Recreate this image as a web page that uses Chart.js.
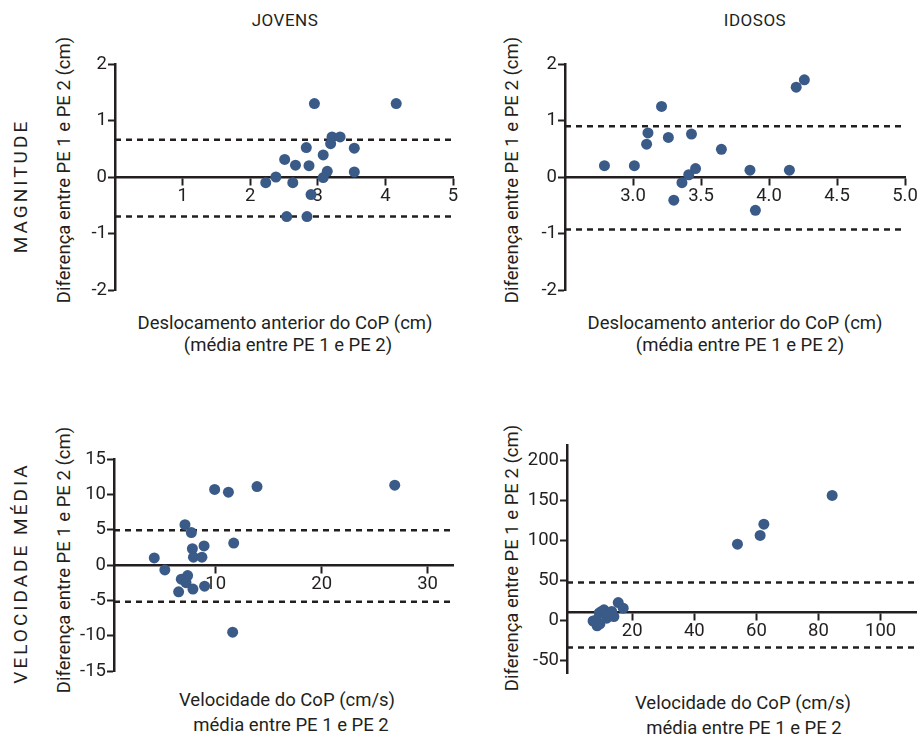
<!DOCTYPE html>
<html>
<head>
<meta charset="utf-8">
<script src="https://cdn.jsdelivr.net/npm/chart.js@4.4.0/dist/chart.umd.min.js"></script>
<style>
  body { margin: 0; width: 919px; height: 739px; overflow: hidden; background: #fff;
         font-family: Roboto, sans-serif; color: #231f20; position: relative; }
  canvas { position: absolute; }
  .t { position: absolute; white-space: nowrap; transform: translate(-50%, -50%); font-size: 18.5px; line-height: 22px; }
  .r { transform: translate(-50%, -50%) rotate(-90deg); }
  .row { font-size: 19px; letter-spacing: 3px; }
</style>
</head>
<body>
<div class="t" style="left:285px;top:20px;font-size:17px;letter-spacing:0.5px">JOVENS</div>
<div class="t" style="left:755px;top:20px;font-size:17px;letter-spacing:0.5px">IDOSOS</div>
<div class="t r row" style="left:21px;top:186px">MAGNITUDE</div>
<div class="t r row" style="left:21px;top:573px">VELOCIDADE MÉDIA</div>

<div class="t r" style="left:64px;top:170px">Diferença entre PE 1 e PE 2 (cm)</div>
<div class="t r" style="left:512px;top:170px">Diferença entre PE 1 e PE 2 (cm)</div>
<div class="t r" style="left:64px;top:560px">Diferença entre PE 1 e PE 2 (cm)</div>
<div class="t r" style="left:512px;top:558px">Diferença entre PE 1 e PE 2 (cm)</div>

<div class="t" style="left:285px;top:323px">Deslocamento anterior do CoP (cm)</div>
<div class="t" style="left:288px;top:345px">(média entre PE 1 e PE 2)</div>
<div class="t" style="left:735px;top:323px">Deslocamento anterior do CoP (cm)</div>
<div class="t" style="left:740px;top:345px">(média entre PE 1 e PE 2)</div>
<div class="t" style="left:287px;top:700px">Velocidade do CoP (cm/s)</div>
<div class="t" style="left:291px;top:725px">média entre PE 1 e PE 2</div>
<div class="t" style="left:743px;top:703px">Velocidade do CoP (cm/s)</div>
<div class="t" style="left:744px;top:728px">média entre PE 1 e PE 2</div>

<canvas id="c1"></canvas>
<canvas id="c2"></canvas>
<canvas id="c3"></canvas>
<canvas id="c4"></canvas>

<script>
// Jovens - magnitude
const jovMagX = [2.95, 4.16, 3.21, 3.33, 3.19, 2.83, 3.54, 3.08, 2.51, 2.67, 2.87, 3.14, 3.54, 3.08, 2.38, 2.23, 2.63, 2.90, 2.54, 2.84];
const jovMagY = [1.30, 1.30, 0.71, 0.71, 0.59, 0.52, 0.51, 0.39, 0.31, 0.21, 0.20, 0.10, 0.09, -0.01, 0.00, -0.10, -0.10, -0.31, -0.70, -0.70];
const jovMagLimits = [0.66, -0.70];

// Idosos - magnitude
const idoMagX = [2.79, 3.01, 3.11, 3.10, 3.21, 3.26, 3.43, 3.65, 3.46, 3.41, 3.36, 3.30, 3.86, 3.90, 4.15, 4.20, 4.26];
const idoMagY = [0.20, 0.20, 0.78, 0.58, 1.25, 0.70, 0.76, 0.49, 0.15, 0.04, -0.10, -0.41, 0.12, -0.59, 0.12, 1.59, 1.72];
const idoMagLimits = [0.90, -0.93];

// Jovens - velocidade media
const jovVelX = [4.2, 5.2, 7.1, 7.7, 7.8, 7.9, 8.7, 8.9, 7.35, 6.75, 7.2, 6.5, 7.85, 8.95, 9.9, 11.2, 13.9, 11.7, 11.6, 26.9];
const jovVelY = [1.0, -0.7, 5.7, 4.6, 2.3, 1.1, 1.1, 2.7, -1.5, -2.0, -2.5, -3.8, -3.4, -3.0, 10.7, 10.3, 11.1, 3.1, -9.5, 11.3];
const jovVelLimits = [4.9, -5.2];

// Idosos - velocidade media
const idoVelX = [7.4, 8.7, 10.1, 11.8, 14.1, 15.5, 17.1, 9.4, 10.9, 8.3, 9.6, 12.5, 13.4, 53.9, 61.2, 62.4, 84.4];
const idoVelY = [-1, -7, 11, 2.5, 4.5, 22, 15, 9, 13, 0, -4.6, 8, 11, 95, 106, 120, 156];
const idoVelLimits = [47, -34];

const INK = '#231f20';
const DOT = '#3a5b88';
const YW = 50, PT = 14, PR = 20, PB = 14;

function makePanel(id, p) {
    const cv = document.getElementById(id);
    const w = (p.r - p.l) + YW + PR;
    const h = (p.b - p.t) + PT + PB;
    cv.width = w;
    cv.height = h;
    cv.style.left = (p.l - YW) + 'px';
    cv.style.top = (p.t - PT) + 'px';

    const pts = p.xs.map((x, i) => ({ x: x, y: p.ys[i] }));
    const limitLine = v => ({
        type: 'line',
        data: [{ x: p.xMin, y: v }, { x: p.xMax, y: v }],
        borderColor: INK,
        borderWidth: 2.5,
        borderDash: [6, 5],
        pointRadius: 0,
        order: 2
    });

    const tickFont = { family: 'Roboto', size: 18.5 };

    new Chart(cv, {
        type: 'scatter',
        data: {
            datasets: [
                { data: pts, backgroundColor: DOT, borderWidth: 0, pointRadius: 5.5, order: 0 },
                limitLine(p.limits[0]),
                limitLine(p.limits[1])
            ]
        },
        options: {
            responsive: false,
            devicePixelRatio: 1,
            animation: false,
            layout: { padding: { left: 0, top: PT, right: PR, bottom: PB } },
            plugins: { legend: { display: false }, tooltip: { enabled: false } },
            scales: {
                x: {
                    type: 'linear',
                    min: p.xMin,
                    max: p.xMax,
                    position: { y: p.axisY },
                    afterBuildTicks: s => { s.ticks = s.ticks.filter(t => t.value >= p.xFirst - 1e-9); },
                    ticks: {
                        stepSize: p.xStep, includeBounds: false, autoSkip: false, maxRotation: 0,
                        color: INK, font: tickFont, padding: 1,
                        callback: v => p.xFmt ? v.toFixed(p.xFmt) : v
                    },
                    grid: { drawOnChartArea: false, tickLength: 7, tickWidth: 2, color: INK },
                    border: { color: INK, width: 2.5 }
                },
                y: {
                    type: 'linear',
                    min: p.yMin,
                    max: p.yMax,
                    position: 'left',
                    afterFit: s => { s.width = YW; },
                    ticks: {
                        stepSize: p.yStep, includeBounds: false, autoSkip: false,
                        color: INK, font: tickFont, padding: 1
                    },
                    grid: { drawOnChartArea: false, tickLength: 7, tickWidth: 2, color: INK },
                    border: { color: INK, width: 2.5 }
                }
            }
        }
    });
}

makePanel('c1', { l: 115, r: 453, t: 64, b: 290, xMin: 0, xMax: 5, xStep: 1, xFirst: 1,
    yMin: -2, yMax: 2, yStep: 1, axisY: 0, xs: jovMagX, ys: jovMagY, limits: jovMagLimits });
makePanel('c2', { l: 565, r: 905, t: 64, b: 290, xMin: 2.5, xMax: 5.0, xStep: 0.5, xFirst: 3.0, xFmt: 1,
    yMin: -2, yMax: 2, yStep: 1, axisY: 0, xs: idoMagX, ys: idoMagY, limits: idoMagLimits });
makePanel('c3', { l: 114, r: 453, t: 459, b: 671, xMin: 0.4, xMax: 32.4, xStep: 10, xFirst: 10,
    yMin: -15, yMax: 15, yStep: 5, axisY: 0, xs: jovVelX, ys: jovVelY, limits: jovVelLimits });
makePanel('c4', { l: 567, r: 916, t: 445, b: 673, xMin: -1, xMax: 111.4, xStep: 20, xFirst: 20,
    yMin: -66, yMax: 219, yStep: 50, axisY: 10, xs: idoVelX, ys: idoVelY, limits: idoVelLimits });
</script>
</body>
</html>
